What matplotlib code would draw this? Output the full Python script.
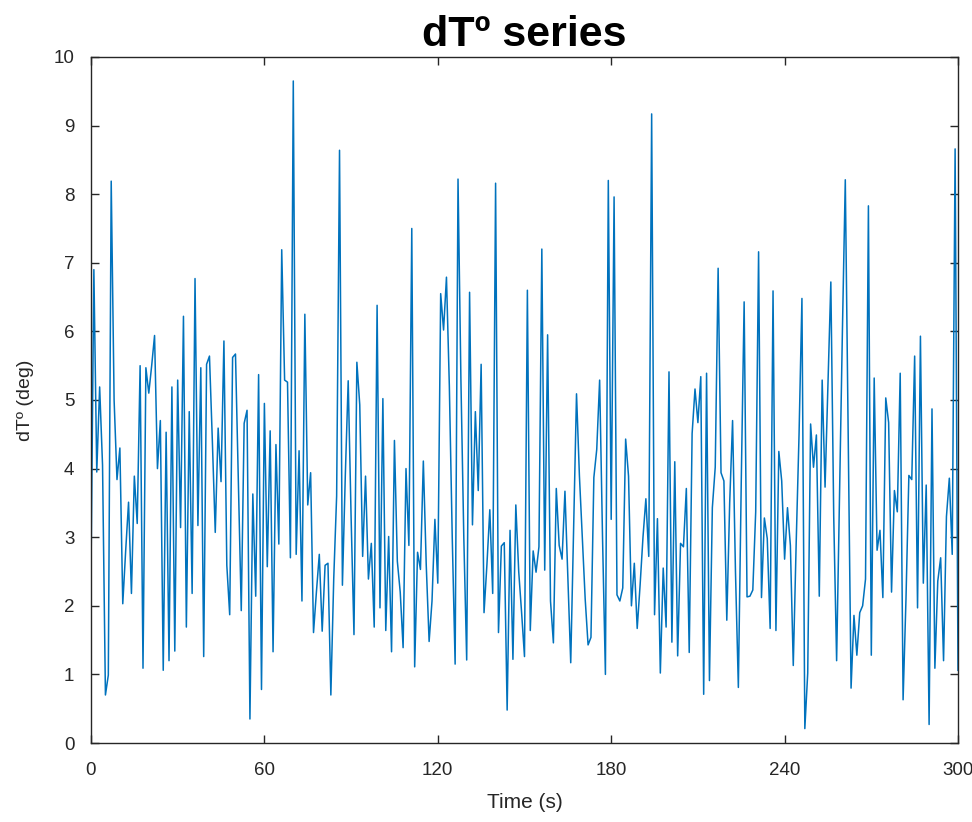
import numpy as np
import matplotlib
matplotlib.use("Agg")
import matplotlib.pyplot as plt

plt.rcParams["font.family"] = ["Liberation Sans", "DejaVu Sans"]

# sample times (s) and temperature differences (deg)
time_s = np.arange(0, 301)
dT = [
    2.46, 6.9, 3.95, 5.19, 4.05, 0.7, 0.99, 8.19, 5.0, 3.84,
    4.3, 2.03, 2.8, 3.51, 2.18, 3.89, 3.2, 5.5, 1.09, 5.47,
    5.1, 5.5, 5.94, 4.0, 4.7, 1.06, 4.53, 1.2, 5.19, 1.34,
    5.29, 3.14, 6.22, 1.69, 4.83, 2.18, 6.77, 3.17, 5.47, 1.26,
    5.52, 5.64, 4.4, 3.07, 4.59, 3.81, 5.86, 2.59, 1.87, 5.62,
    5.67, 3.8, 1.93, 4.66, 4.85, 0.35, 3.63, 2.14, 5.37, 0.78,
    4.95, 2.57, 4.55, 1.33, 4.35, 2.9, 7.19, 5.29, 5.26, 2.7,
    9.65, 2.75, 4.26, 2.07, 6.25, 3.47, 3.94, 1.61, 2.2, 2.75,
    1.63, 2.59, 2.62, 0.7, 2.4, 3.6, 8.64, 2.3, 3.9, 5.28,
    3.3, 1.58, 5.55, 4.93, 2.72, 3.89, 2.39, 2.91, 1.69, 6.38,
    1.97, 5.02, 1.64, 3.01, 1.33, 4.41, 2.65, 2.2, 1.39, 4.0,
    2.88, 7.5, 1.11, 2.78, 2.53, 4.11, 2.6, 1.48, 2.07, 3.26,
    2.33, 6.55, 6.02, 6.79, 5.2, 3.0, 1.15, 8.22, 5.3, 3.0,
    1.21, 6.57, 3.18, 4.83, 3.68, 5.52, 1.9, 2.6, 3.4, 2.18,
    8.16, 1.61, 2.87, 2.92, 0.48, 3.1, 1.22, 3.47, 2.5, 1.9,
    1.26, 6.6, 1.64, 2.8, 2.49, 2.86, 7.2, 2.52, 5.95, 2.07,
    1.46, 3.71, 2.88, 2.68, 3.67, 2.4, 1.17, 3.1, 5.09, 3.9,
    3.0, 2.1, 1.43, 1.54, 3.87, 4.28, 5.29, 3.0, 1.0, 8.2,
    3.26, 7.96, 2.16, 2.07, 2.26, 4.43, 3.89, 2.0, 2.62, 1.67,
    2.3, 3.0, 3.56, 2.72, 9.17, 1.87, 3.27, 1.02, 2.55, 1.69,
    5.41, 1.47, 4.1, 1.27, 2.91, 2.86, 3.71, 1.32, 4.51, 5.16,
    4.67, 5.34, 0.71, 5.39, 0.91, 3.43, 4.02, 6.92, 3.94, 3.82,
    1.79, 3.5, 4.7, 2.5, 0.81, 3.8, 6.43, 2.13, 2.14, 2.23,
    3.37, 7.16, 2.12, 3.28, 2.98, 1.67, 6.59, 1.64, 4.25, 3.82,
    2.68, 3.43, 2.88, 1.13, 2.9, 4.5, 6.48, 0.21, 1.02, 4.65,
    4.02, 4.49, 2.14, 5.29, 3.73, 5.2, 6.72, 3.3, 1.2, 3.6,
    6.0, 8.21, 4.5, 0.8, 1.86, 1.28, 1.9, 2.0, 2.39, 7.83,
    1.28, 5.32, 2.81, 3.1, 2.12, 5.03, 4.67, 2.2, 3.68, 3.37,
    5.39, 0.63, 2.1, 3.9, 3.84, 5.64, 1.97, 5.93, 2.33, 3.76,
    0.27, 4.87, 1.09, 2.36, 2.7, 1.2, 3.3, 3.86, 2.75, 8.66, 1.06,
]
x_ticks = [0, 60, 120, 180, 240, 300]
y_ticks = list(range(0, 11))

fig = plt.figure(figsize=(9.72, 8.22), dpi=100)
ax = fig.add_axes([0.0936, 0.0961, 0.892, 0.8346])

ax.plot(time_s, dT, color="#0072BD", linewidth=1.1)

ax.set_xlim(0, 300)
ax.set_ylim(0, 10)
ax.set_xticks(x_ticks)
ax.set_yticks(y_ticks)

for side in ["left", "right", "top", "bottom"]:
    ax.spines[side].set_color("#262626")
    ax.spines[side].set_linewidth(1.0)
ax.tick_params(direction="in", length=6, width=1.0, color="#262626",
               top=True, right=True, labelsize=13.5, labelcolor="#262626")
ax.tick_params(axis="x", pad=14)
ax.tick_params(axis="y", pad=12)

ax.set_title("dTº series", fontsize=31, fontweight="bold", pad=8)
ax.set_xlabel("Time (s)", fontsize=15, color="#262626", labelpad=10)
ax.set_ylabel("dTº (deg)", fontsize=14, color="#262626", labelpad=14)

fig.savefig("out.png", dpi=100)
